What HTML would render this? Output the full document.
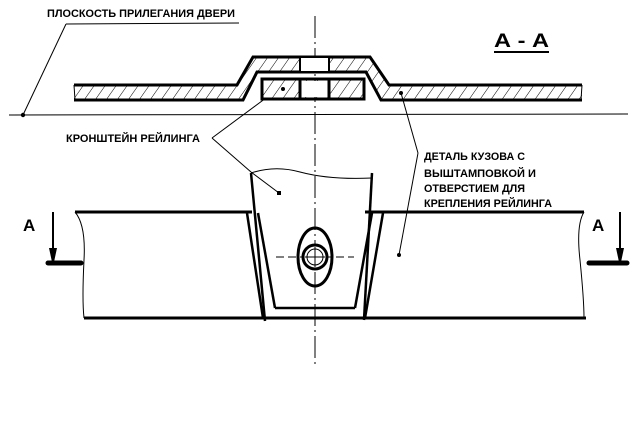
<!DOCTYPE html>
<html><head><meta charset="utf-8"><style>
html,body{margin:0;padding:0;background:#fff;}
svg{display:block;}
text{font-family:"Liberation Sans",sans-serif;font-weight:bold;fill:#000;}
</style></head><body>
<svg width="640" height="434" viewBox="0 0 640 434" xmlns="http://www.w3.org/2000/svg">
<defs>
<pattern id="h" width="9" height="9" patternUnits="userSpaceOnUse" patternTransform="rotate(35)">
<line x1="0" y1="0" x2="0" y2="9" stroke="#000" stroke-width="1"/>
</pattern>
</defs>
<!-- texts -->
<text x="47" y="17" font-size="11" textLength="188" lengthAdjust="spacingAndGlyphs">ПЛОСКОСТЬ ПРИЛЕГАНИЯ ДВЕРИ</text>
<line x1="66" y1="24" x2="239" y2="23" stroke="#000" stroke-width="1"/>
<line x1="66" y1="24" x2="23" y2="115" stroke="#000" stroke-width="1"/>
<circle cx="23" cy="115" r="2.2"/>
<line x1="9" y1="115" x2="628" y2="114" stroke="#000" stroke-width="1"/>
<text x="494" y="47" font-size="19" textLength="55" lengthAdjust="spacingAndGlyphs">А - А</text>
<line x1="494" y1="52" x2="549" y2="52" stroke="#000" stroke-width="2"/>
<!-- centerline -->
<line x1="315" y1="16" x2="315" y2="368" stroke="#000" stroke-width="1" stroke-dasharray="22,4,2,4"/>
<!-- section: hatched sheet -->
<path d="M74,85 L237,85 L253,57 L370,57 L389,85 L582,85 L582,100 L381,100 L366,72 L257,72 L243,100 L74,100 Z" fill="url(#h)" stroke="none"/>
<path d="M74,85 L237,85 L253,57 L370,57 L389,85 L582,85" fill="none" stroke="#000" stroke-width="3"/>
<path d="M74,100 L243,100 L257,72 L366,72 L381,100 L582,100" fill="none" stroke="#000" stroke-width="3"/>
<line x1="74" y1="85" x2="75" y2="100" stroke="#000" stroke-width="1"/>
<line x1="582" y1="85" x2="581" y2="100" stroke="#000" stroke-width="1"/>
<rect x="299" y="58" width="30" height="13" fill="#fff"/>
<line x1="300" y1="57" x2="300" y2="72" stroke="#000" stroke-width="2"/>
<line x1="329" y1="57" x2="329" y2="72" stroke="#000" stroke-width="2"/>
<!-- bracket box -->
<rect x="262" y="79" width="102" height="20" fill="url(#h)" stroke="#000" stroke-width="3"/>
<rect x="301" y="81" width="27" height="16" fill="#fff"/>
<line x1="300" y1="79" x2="300" y2="99" stroke="#000" stroke-width="3"/>
<line x1="329" y1="79" x2="329" y2="99" stroke="#000" stroke-width="3"/>
<circle cx="283" cy="89" r="2"/>
<circle cx="401" cy="93" r="2"/>
<!-- leaders -->
<line x1="266" y1="98" x2="212" y2="138" stroke="#000" stroke-width="1"/>
<line x1="212" y1="138" x2="251" y2="172" stroke="#000" stroke-width="1"/>
<line x1="251" y1="172" x2="279" y2="193" stroke="#000" stroke-width="1"/>
<rect x="277" y="191" width="4" height="4"/>
<line x1="401" y1="93" x2="418" y2="153" stroke="#000" stroke-width="1"/>
<line x1="418" y1="153" x2="399" y2="255" stroke="#000" stroke-width="1"/>
<circle cx="399" cy="255" r="2"/>
<text x="66" y="142" font-size="11" textLength="134" lengthAdjust="spacingAndGlyphs">КРОНШТЕЙН РЕЙЛИНГА</text>
<text x="424" y="160" font-size="11" textLength="101" lengthAdjust="spacingAndGlyphs">ДЕТАЛЬ КУЗОВА С</text>
<text x="424" y="177" font-size="11" textLength="112" lengthAdjust="spacingAndGlyphs">ВЫШТАМПОВКОЙ И</text>
<text x="424" y="192" font-size="11" textLength="101" lengthAdjust="spacingAndGlyphs">ОТВЕРСТИЕМ ДЛЯ</text>
<text x="424" y="207" font-size="11" textLength="128" lengthAdjust="spacingAndGlyphs">КРЕПЛЕНИЯ РЕЙЛИНГА</text>
<!-- lower view -->
<line x1="75" y1="212" x2="252" y2="212" stroke="#000" stroke-width="3"/>
<line x1="365" y1="212" x2="584" y2="212" stroke="#000" stroke-width="3"/>
<line x1="84" y1="318" x2="586" y2="318" stroke="#000" stroke-width="3"/>
<path d="M75,212 Q86,225 84,260 Q82,300 84,318" fill="none" stroke="#000" stroke-width="1"/>
<path d="M584,212 Q576,225 580,260 Q584,300 584,318" fill="none" stroke="#000" stroke-width="1"/>
<!-- stamping -->
<line x1="247" y1="213" x2="263" y2="318" stroke="#000" stroke-width="2.5"/>
<line x1="258" y1="213" x2="275" y2="308" stroke="#000" stroke-width="2.5"/>
<line x1="275" y1="308" x2="355" y2="308" stroke="#000" stroke-width="2.5"/>
<line x1="355" y1="308" x2="372" y2="213" stroke="#000" stroke-width="2.5"/>
<line x1="383" y1="213" x2="365" y2="318" stroke="#000" stroke-width="2.5"/>
<!-- bracket -->
<line x1="251" y1="173" x2="265" y2="321" stroke="#000" stroke-width="2.5"/>
<line x1="372" y1="173" x2="364" y2="320" stroke="#000" stroke-width="2.5"/>
<path d="M251,173 Q275,165 300,172 Q330,180 372,178" fill="none" stroke="#000" stroke-width="1"/>
<!-- hole -->
<line x1="276" y1="257" x2="354" y2="257" stroke="#000" stroke-width="1" stroke-dasharray="8,4"/>
<ellipse cx="315" cy="257" rx="17" ry="29" fill="none" stroke="#000" stroke-width="3"/>
<circle cx="315" cy="257" r="12" fill="#fff" stroke="#000" stroke-width="3"/>
<circle cx="315" cy="257" r="8" fill="none" stroke="#000" stroke-width="1"/>
<line x1="305" y1="257" x2="325" y2="257" stroke="#000" stroke-width="1"/>
<line x1="315" y1="247" x2="315" y2="267" stroke="#000" stroke-width="1"/>
<!-- section arrows -->
<text x="23" y="231" font-size="17">А</text>
<line x1="53" y1="212" x2="53" y2="252" stroke="#000" stroke-width="2"/>
<path d="M49,248 L57,248 L54,262 L52,262 Z"/>
<line x1="48" y1="263" x2="81" y2="263" stroke="#000" stroke-width="5" stroke-linecap="round"/>
<text x="592" y="231" font-size="17">А</text>
<line x1="620" y1="212" x2="620" y2="252" stroke="#000" stroke-width="2"/>
<path d="M616,248 L624,248 L621,262 L619,262 Z"/>
<line x1="589" y1="263" x2="627" y2="263" stroke="#000" stroke-width="5" stroke-linecap="round"/>
</svg>
</body></html>
